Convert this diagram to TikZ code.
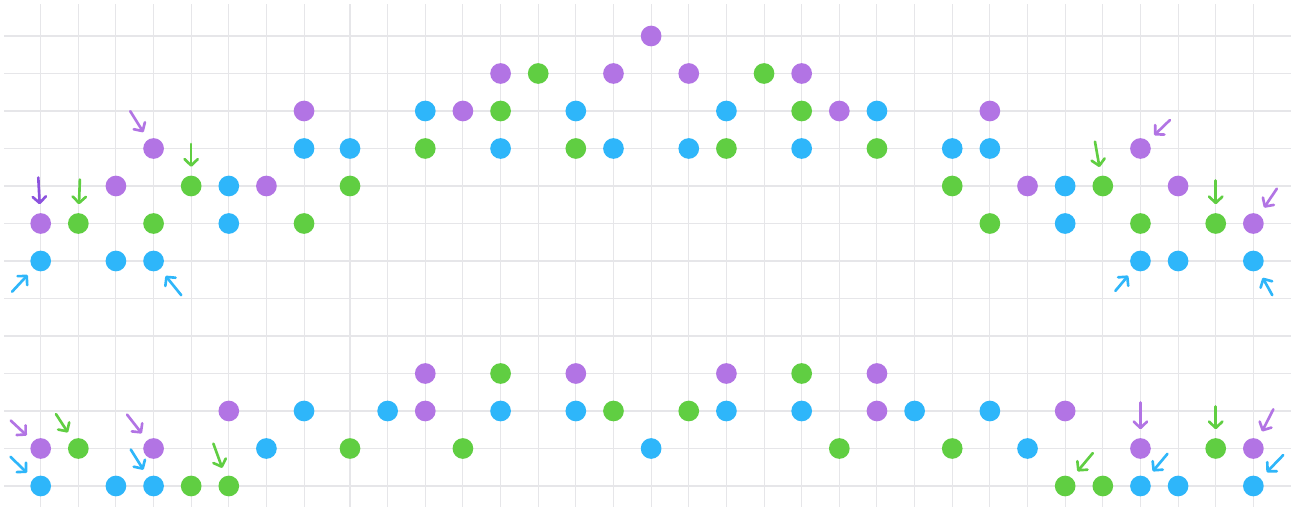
\documentclass[tikz,border=0pt]{standalone}
\usetikzlibrary{arrows.meta}
\definecolor{dotpurple}{RGB}{178,116,228}
\definecolor{dotblue}{RGB}{46,182,250}
\definecolor{dotgreen}{RGB}{96,206,66}
\definecolor{hintviolet}{RGB}{140,82,222}
\definecolor{gridgray}{RGB}{230,230,233}
\begin{document}
\begin{tikzpicture}[x=0.02cm, y=0.02cm,
spot/.style={circle, inner sep=0pt, minimum size=0.414cm},
purple spot/.style={spot, fill=dotpurple},
blue spot/.style={spot, fill=dotblue},
green spot/.style={spot, fill=dotgreen},
gridline/.style={gridgray, line width=0.6pt},
hint/.style={line width=1.5pt, line cap=round, shorten >=0.17cm,
  -{Straight Barb[length=3.6pt, width=7.5pt, round]}},]
\fill[white] (0,0) rectangle (1295,507);
\useasboundingbox (0,0) rectangle (1295,507);
% grid
\foreach \c in {0,...,32} {
  \pgfmathsetmacro{\px}{ifthenelse(\c<8, 40.7+37.62*\c, 350+37.64*(\c-8))}
  \draw[gridline] (\px,0) -- (\px,503);
}
\foreach \r in {0,...,12}
  \draw[gridline] (4,{471-37.5*\r}) -- (1291,{471-37.5*\r});
% dots
\foreach \c/\r in {0/5, 2/4, 3/3, 6/4, 7/2, 11/2, 12/1, 15/1, 16/0, 17/1, 20/1,
                   21/2, 25/2, 26/4, 29/3, 30/4, 32/5,
                   5/10, 0/11, 3/11, 10/9, 10/10, 14/9, 18/9, 22/9, 22/10,
                   27/10, 29/11, 32/11} {
  \pgfmathsetmacro{\px}{ifthenelse(\c<8, 40.7+37.62*\c, 350+37.64*(\c-8))}
  \pgfmathsetmacro{\py}{471-37.5*\r}
  \node[purple spot] (p-\c-\r) at (\px,\py) {};
}
\foreach \c/\r in {0/6, 2/6, 3/6, 5/4, 5/5, 7/3, 8/3, 10/2, 12/3, 14/2, 15/3,
                   17/3, 18/2, 20/3, 22/2, 24/3, 25/3, 27/4, 27/5, 29/6, 30/6, 32/6,
                   7/10, 6/11, 0/12, 2/12, 3/12, 9/10, 12/10, 14/10, 16/11,
                   18/10, 20/10, 23/10, 25/10, 26/11, 29/12, 30/12, 32/12} {
  \pgfmathsetmacro{\px}{ifthenelse(\c<8, 40.7+37.62*\c, 350+37.64*(\c-8))}
  \pgfmathsetmacro{\py}{471-37.5*\r}
  \node[blue spot] (b-\c-\r) at (\px,\py) {};
}
\foreach \c/\r in {1/5, 3/5, 4/4, 7/5, 8/4, 10/3, 12/2, 13/1, 14/3, 18/3, 19/1,
                   20/2, 22/3, 24/4, 25/5, 28/4, 29/5, 31/5,
                   1/11, 4/12, 5/12, 8/11, 11/11, 12/9, 15/10, 17/10, 20/9,
                   21/11, 24/11, 27/12, 28/12, 31/11} {
  \pgfmathsetmacro{\px}{ifthenelse(\c<8, 40.7+37.62*\c, 350+37.64*(\c-8))}
  \pgfmathsetmacro{\py}{471-37.5*\r}
  \node[green spot] (g-\c-\r) at (\px,\py) {};
}
% hint arrows
\foreach \spotname/\tone/\ang/\len in {
    p-0-5/hintviolet/93/46, g-1-5/dotgreen/88/44, p-3-3/dotpurple/122/44,
    g-4-4/dotgreen/90/42, b-0-6/dotblue/227/42, b-3-6/dotblue/309/44,
    g-28-4/dotgreen/100/45, p-29-3/dotpurple/44/41, g-31-5/dotgreen/90/43,
    p-32-5/dotpurple/56/42, b-29-6/dotblue/230/39, b-32-6/dotblue/299/39,
    p-0-11/dotpurple/137/41, g-1-11/dotgreen/123/41, b-0-12/dotblue/136/42,
    p-3-11/dotpurple/128/43, b-3-12/dotblue/122/43, g-5-12/dotgreen/110/45,
    p-29-11/dotpurple/90/46, g-31-11/dotgreen/90/42, p-32-11/dotpurple/63/44,
    g-27-12/dotgreen/50/43, b-29-12/dotblue/50/42, b-32-12/dotblue/46/43}
  \draw[hint, \tone] (\spotname) ++(\ang:\len) coordinate (\spotname-tail) -- (\spotname);
\end{tikzpicture}
\end{document}
